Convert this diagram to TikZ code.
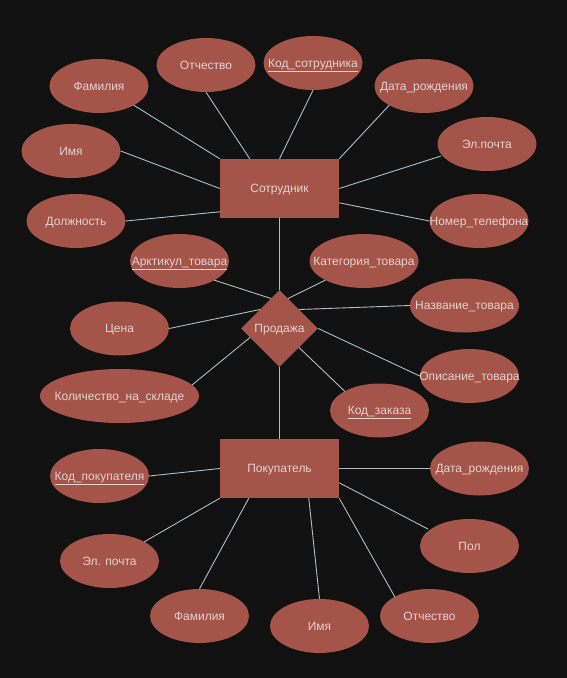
\documentclass[tikz,border=0pt]{standalone}
\usepackage{fontspec}
\setmainfont{Liberation Sans}
\usetikzlibrary{shapes.geometric,calc}
\definecolor{bgc}{HTML}{111111}
\definecolor{fillc}{HTML}{A5544A}
\definecolor{txtc}{HTML}{E2D2D0}
\definecolor{linec}{HTML}{AEBCC6}
\tikzset{
  base/.style={fill=fillc,draw=none,inner sep=0pt,text=txtc,font=\fontsize{12}{14}\selectfont,text height=8.6pt,text depth=0pt},
  attr/.style={base,ellipse,minimum width=99pt,minimum height=54pt},
  ent/.style={base,rectangle,minimum width=119pt,minimum height=59pt},
  rel/.style={base,diamond,minimum width=77pt,minimum height=77pt},
  conn/.style={draw=linec,line width=0.9pt},
}
\newcommand{\tx}[1]{\makebox[0pt]{#1}}
\newcommand{\ul}[1]{\makebox[0pt]{\underline{#1}}}
\begin{document}
\begin{tikzpicture}[x=1pt,y=-1pt]
\fill[bgc] (0,0) rectangle (567,678);
\useasboundingbox (0,0) rectangle (567,678);
% entities
\node[ent] (sot) at (279.5,188.5) {\tx{Сотрудник}};
\node[ent] (pok) at (279.5,468.5) {\tx{Покупатель}};
\node[rel] (prod) at (279.5,328.5) {\tx{Продажа}};
% employee attributes
\node[attr] (sfam) at (99,86) {\tx{Фамилия}};
\node[attr] (sotch) at (206,65) {\tx{Отчество}};
\node[attr] (skod) at (313,63) {\ul{Код\_сотрудника}};
\node[attr] (sdr) at (424,86) {\tx{Дата\_рождения}};
\node[attr] (smail) at (487,144) {\tx{Эл.почта}};
\node[attr] (stel) at (479,221) {\tx{Номер\_телефона}};
\node[attr] (sim) at (71,151) {\tx{Имя}};
\node[attr] (sdol) at (76,221) {\tx{Должность}};
% sale attributes
\node[attr] (part) at (179.5,261) {\ul{Арктикул\_товара}};
\node[attr,minimum width=109pt] (pkat) at (364,261) {\tx{Категория\_товара}};
\node[attr,minimum width=109pt] (pnaz) at (464.5,305.5) {\tx{Название\_товара}};
\node[attr] (pcen) at (119.5,328.5) {\tx{Цена}};
\node[attr,minimum width=159pt] (pkol) at (119.5,396) {\tx{Количество\_на\_складе}};
\node[attr] (popis) at (469.5,376) {\tx{Описание\_товара}};
\node[attr] (pzak) at (379.5,410.5) {\ul{Код\_заказа}};
% buyer attributes
\node[attr] (bkod) at (99.5,476) {\ul{Код\_покупателя}};
\node[attr] (bdr) at (479.5,468.5) {\tx{Дата\_рождения}};
\node[attr] (bmail) at (109.5,561) {\tx{Эл. почта}};
\node[attr] (bpol) at (469.5,546) {\tx{Пол}};
\node[attr] (bfam) at (199.5,616) {\tx{Фамилия}};
\node[attr] (bim) at (319.5,626) {\tx{Имя}};
\node[attr] (botch) at (429.5,616) {\tx{Отчество}};
% anchor coordinates on entities / relationship
\coordinate (s1) at ($(sot.north west)+(30,0)$);
\coordinate (s2) at ($(sot.north east)+(0,44)$);
\coordinate (s3) at ($(sot.north west)+(0,53)$);
\coordinate (b1) at ($(pok.south west)+(29,0)$);
\coordinate (b2) at ($(pok.south west)+(89,0)$);
\coordinate (b3) at ($(pok.north east)+(0,44)$);
\coordinate (d1) at ($(prod.center)+(-8.5,-30)$);
\coordinate (d2) at ($(prod.center)+(8.5,-30)$);
\coordinate (d3) at ($(prod.center)+(19.5,-19)$);
\coordinate (d4) at ($(prod.center)+(-19.5,-19)$);
\coordinate (d5) at ($(prod.center)+(-29.5,9)$);
\coordinate (d7) at ($(prod.center)+(19.5,19)$);
% anchor coordinates on attributes
\coordinate (esfam) at ($(sfam.center)+(34.65,19.1)$);
\coordinate (esdr) at ($(sdr.center)+(-34.65,19.1)$);
\coordinate (esmail) at ($(smail.center)+(-46,12)$);
\coordinate (epart) at ($(part.center)+(34.65,19.1)$);
\coordinate (epkat) at ($(pkat.center)+(-38.5,19.1)$);
\coordinate (epkol) at ($(pkol.center)+(72.5,-11)$);
\coordinate (epzak) at ($(pzak.center)+(-34.65,-19.1)$);
\coordinate (ebmail) at ($(bmail.center)+(34.65,-19.1)$);
\coordinate (ebpol) at ($(bpol.center)+(-41.5,-17)$);
\coordinate (ebotch) at ($(botch.center)+(-34.65,-19.1)$);
% connectors
\draw[conn] (esfam) -- (sot.north west);
\draw[conn] (sotch.south) -- (s1);
\draw[conn] (skod.south) -- (sot.north);
\draw[conn] (esdr) -- (sot.north east);
\draw[conn] (esmail) -- (sot.east);
\draw[conn] (stel.west) -- (s2);
\draw[conn] (sim.east) -- (sot.west);
\draw[conn] (sdol.east) -- (s3);
\draw[conn] (sot.south) -- (prod.north);
\draw[conn] (prod.south) -- (pok.north);
\draw[conn] (epart) -- (d1);
\draw[conn] (epkat) -- (d2);
\draw[conn] (pnaz.west) -- (d3);
\draw[conn] (pcen.east) -- (d4);
\draw[conn] (epkol) -- (d5);
\draw[conn] (popis.west) -- (prod.east);
\draw[conn] (epzak) -- (d7);
\draw[conn] (bkod.east) -- (pok.west);
\draw[conn] (bdr.west) -- (pok.east);
\draw[conn] (ebmail) -- (pok.south west);
\draw[conn] (bfam.north) -- (b1);
\draw[conn] (bim.north) -- (b2);
\draw[conn] (ebotch) -- (pok.south east);
\draw[conn] (ebpol) -- (b3);
\end{tikzpicture}
\end{document}
